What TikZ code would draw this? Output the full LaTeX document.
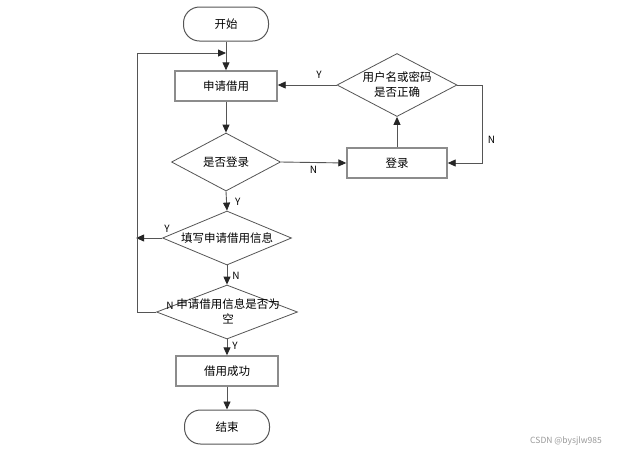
\documentclass[tikz,border=0pt]{standalone}
\usepackage{fontspec}
\setmainfont{Noto Sans CJK SC}
\usetikzlibrary{calc,arrows.meta,shapes.geometric}
\definecolor{edgegray}{RGB}{140,140,140}
\definecolor{linegray}{RGB}{85,85,85}
\tikzset{
	boxstyle/.style={draw=edgegray, line width=1.4pt, fill=white, minimum width=102pt, minimum height=30pt, inner sep=0pt, font=\fontsize{11.5}{13}\selectfont},
	termstyle/.style={boxstyle, line width=1pt, draw=linegray, rounded corners=16pt, minimum width=85pt, minimum height=34pt},
	decstyle/.style={draw=linegray, line width=0.8pt, fill=white, diamond, inner sep=0pt},
	dectext/.style={align=center, inner sep=0pt, font=\fontsize{11.5}{15}\selectfont},
	arr/.style={draw=linegray, line width=0.9pt, -{Triangle[length=8pt,width=7pt,color=black!85]}},
	lbl/.style={font=\fontsize{10}{11}\selectfont, inner sep=1pt}
}

\begin{document}
\begin{tikzpicture}[x=1pt, y=-1pt]
			%%%%% START %%%%%
			\useasboundingbox[fill=white] (0, 0) rectangle (620, 451);
			
			\node[termstyle] (start) at (226, 24) {开始};
			\node[boxstyle] (apply) at (226, 86) {申请借用};
			\node[decstyle, minimum width=109pt, minimum height=58pt] (chklog) at (226, 162) {};
			\node[dectext] (chklog-t) at (chklog) {是否登录};
			
			\node[boxstyle, minimum width=100pt] (login) at (397, 163) {登录};
			\node[decstyle, minimum width=120pt, minimum height=63pt] (chkpw) at (397, 85) {};
			\node[dectext] (chkpw-t) at (chkpw) {用户名或密码\\是否正确};
			
			\node[decstyle, minimum width=129pt, minimum height=54pt] (fill) at (227, 238) {};
			\node[dectext] (fill-t) at (fill) {填写申请借用信息};
			\node[decstyle, minimum width=141pt, minimum height=54pt] (empty) at (227, 312) {};
			\node[dectext] (empty-t) at (228, 311) {申请借用信息是否为\\空};
			
			\node[boxstyle] (ok) at (227, 371) {借用成功};
			\node[termstyle] (end) at (227, 427) {结束};
			
			\coordinate (join) at ($(start.south)!0.4!(apply.north)$);
			
			\draw[arr] (start.south) -- (apply.north);
			\draw[arr] (apply.south) -- (chklog.north);
			\draw[arr] (chklog.east) -- node[lbl, below=2pt, pos=0.5] (n1) {N} (login.west);
			\draw[arr] (login.north) -- (chkpw.south);
			\draw[arr] (chkpw.west) -- node[lbl, above=5pt, pos=0.3] (y1) {Y} (chkpw.west -| apply.east);
			\draw[arr] (chkpw.east) -- ++(25, 0) |- node[lbl, right=4pt, pos=0.35] (n2) {N} (login.east);
			
			\draw[arr] (chklog.south) -- node[lbl, right=7pt, pos=0.55] (y2) {Y} (fill.north);
			\draw[arr] (fill.west) -- node[lbl, above=4pt, pos=0.0, xshift=5pt] (y3) {Y} ++(-26, 0);
			\draw[arr] (fill.south) -- node[lbl, right=4pt, pos=0.55] (n3) {N} (empty.north);
			\draw[arr] (empty.west) -- ++(-19, 0) |- (join);
			\node[lbl] (n4) at (170, 306) {N};
			\draw[arr] (empty.south) -- node[lbl, right=4pt, pos=0.4] (y4) {Y} (ok.north);
			\draw[arr] (ok.south) -- (end.north);
			
			\node[font=\fontsize{8.5}{10}\selectfont, text=black!40] (mark) at (566, 441) {CSDN @bysjlw985};
			%%%%% END %%%%%
\end{tikzpicture}
\end{document}
